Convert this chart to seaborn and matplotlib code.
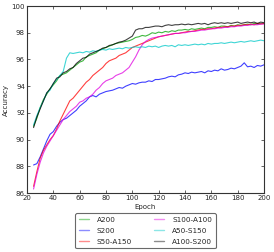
import numpy as np
import pandas as pd
import matplotlib
matplotlib.use("Agg")
import matplotlib.pyplot as plt
import seaborn as sns

epochs = [25, 27.5, 30, 32.5, 35, 37.5, 40, 42.5, 45, 47.5,
          50, 52.5, 55, 57.5, 60, 62.5, 65, 67.5, 70, 72.5,
          75, 77.5, 80, 82.5, 85, 87.5, 90, 92.5, 95, 97.5,
          100, 102.5, 105, 107.5, 110, 112.5, 115, 117.5, 120, 122.5,
          125, 127.5, 130, 132.5, 135, 137.5, 140, 142.5, 145, 147.5,
          150, 152.5, 155, 157.5, 160, 162.5, 165, 167.5, 170, 172.5,
          175, 177.5, 180, 182.5, 185, 187.5, 190, 192.5, 195, 197.5, 200]

A200 = [91.0, 91.6, 92.4, 93.0, 93.4, 93.8, 94.1, 94.4, 94.8, 94.9,
        95.0, 95.2, 95.4, 95.6, 95.8, 95.9, 96.2, 96.3, 96.4, 96.5,
        96.7, 96.8, 96.9, 97.0, 97.1, 97.2, 97.25, 97.3, 97.35, 97.4,
        97.5, 97.65, 97.7, 97.8, 97.75, 97.85, 98.0, 97.95, 98.05, 98.0,
        98.1, 98.05, 98.15, 98.1, 98.2, 98.2, 98.25, 98.2, 98.3, 98.25,
        98.3, 98.35, 98.3, 98.4, 98.4, 98.45, 98.4, 98.5, 98.5, 98.45,
        98.55, 98.5, 98.6, 98.55, 98.6, 98.65, 98.6, 98.7, 98.65, 98.7, 98.7]

S200 = [88.1, 88.2, 88.7, 89.3, 89.9, 90.4, 90.6, 91.0, 91.3, 91.5,
        91.6, 91.8, 92.0, 92.2, 92.5, 92.7, 92.9, 93.2, 93.3, 93.2,
        93.4, 93.5, 93.6, 93.65, 93.7, 93.8, 93.9, 93.85, 94.0, 94.1,
        94.2, 94.15, 94.25, 94.3, 94.3, 94.4, 94.35, 94.5, 94.5, 94.55,
        94.6, 94.7, 94.75, 94.7, 94.85, 94.9, 95.0, 94.95, 95.05, 95.0,
        95.05, 95.1, 95.0, 95.15, 95.1, 95.2, 95.15, 95.3, 95.2, 95.25,
        95.35, 95.3, 95.4, 95.5, 95.75, 95.45, 95.5, 95.4, 95.55, 95.5, 95.6]

S50_A150 = [86.5, 87.6, 88.6, 89.2, 89.6, 90.0, 90.3, 90.8, 91.4, 91.9,
            92.4, 92.9, 93.1, 93.4, 93.7, 94.0, 94.3, 94.5, 94.8, 95.0,
            95.2, 95.4, 95.7, 95.9, 96.0, 96.1, 96.3, 96.4, 96.5, 96.7,
            96.9, 97.0, 97.1, 97.2, 97.3, 97.4, 97.5, 97.6, 97.7, 97.75,
            97.8, 97.85, 97.9, 97.95, 97.95, 98.0, 98.05, 98.1, 98.1, 98.15,
            98.2, 98.25, 98.25, 98.3, 98.3, 98.35, 98.4, 98.4, 98.45, 98.45,
            98.5, 98.5, 98.55, 98.55, 98.6, 98.6, 98.65, 98.6, 98.7, 98.65, 98.7]

S100_A100 = [86.3, 87.4, 88.3, 89.0, 89.5, 89.9, 90.3, 90.7, 91.1, 91.5,
             91.8, 92.1, 92.3, 92.5, 92.8, 92.9, 93.1, 93.2, 93.4, 93.7,
             93.9, 94.2, 94.4, 94.5, 94.6, 94.8, 94.9, 95.0, 95.2, 95.4,
             95.8, 96.2, 96.7, 97.1, 97.35, 97.5, 97.6, 97.65, 97.7, 97.75,
             97.8, 97.85, 97.9, 97.95, 97.95, 98.0, 98.0, 98.05, 98.1, 98.1,
             98.15, 98.2, 98.2, 98.25, 98.3, 98.3, 98.35, 98.35, 98.4, 98.4,
             98.45, 98.45, 98.5, 98.5, 98.55, 98.55, 98.6, 98.6, 98.6, 98.65, 98.65]

A50_S150 = [91.1, 91.8, 92.4, 92.9, 93.5, 93.7, 94.2, 94.5, 94.8, 95.1,
            96.1, 96.5, 96.45, 96.5, 96.55, 96.5, 96.6, 96.55, 96.65, 96.6,
            96.7, 96.75, 96.7, 96.8, 96.75, 96.8, 96.85, 96.8, 96.9, 96.85,
            96.9, 96.95, 96.9, 96.95, 96.9, 97.0, 96.95, 97.0, 96.9, 97.0,
            97.05, 97.0, 97.05, 96.95, 97.1, 97.05, 97.1, 97.05, 97.1, 97.15,
            97.1, 97.15, 97.1, 97.2, 97.15, 97.2, 97.2, 97.25, 97.2, 97.25,
            97.3, 97.25, 97.3, 97.35, 97.3, 97.35, 97.4, 97.35, 97.4, 97.45, 97.4]

A100_S200 = [90.9, 91.7, 92.3, 92.9, 93.5, 93.8, 94.2, 94.6, 94.7, 95.0,
             95.1, 95.3, 95.4, 95.7, 95.9, 96.1, 96.15, 96.4, 96.5, 96.6,
             96.7, 96.85, 96.9, 97.05, 97.1, 97.2, 97.3, 97.35, 97.45, 97.6,
             97.75, 98.2, 98.3, 98.3, 98.4, 98.4, 98.45, 98.5, 98.5, 98.45,
             98.55, 98.6, 98.55, 98.6, 98.6, 98.65, 98.6, 98.65, 98.6, 98.65,
             98.7, 98.65, 98.7, 98.6, 98.7, 98.75, 98.7, 98.75, 98.7, 98.75,
             98.7, 98.75, 98.8, 98.7, 98.75, 98.8, 98.75, 98.8, 98.7, 98.8, 98.75]

series_names = ["A200", "S200", "S50-A150", "S100-A100", "A50-S150", "A100-S200"]
series_values = [A200, S200, S50_A150, S100_A100, A50_S150, A100_S200]
colors = ["#00a000", "#0000ff", "#ff0000", "#e000e0", "#00c8c8", "#000000"]

x_ticks = [20, 40, 60, 80, 100, 120, 140, 160, 180, 200]
y_ticks = [86, 88, 90, 92, 94, 96, 98, 100]

frames = []
for name, vals in zip(series_names, series_values):
    frames.append(pd.DataFrame({"Epoch": epochs, "Accuracy": vals, "Model": name}))
df = pd.concat(frames, ignore_index=True)

sns.set_style("ticks")
plt.rcParams["font.family"] = ["DejaVu Sans"]

fig = plt.figure(figsize=(2.74, 2.52), dpi=100)
ax = fig.add_axes([0.0985, 0.234, 0.865, 0.742])

sns.lineplot(data=df, x="Epoch", y="Accuracy", hue="Model",
             hue_order=series_names, palette=colors, ax=ax,
             linewidth=0.8, alpha=0.75, legend=True)

ax.set_xlim(20, 200)
ax.set_ylim(86, 100)
ax.set_xticks(x_ticks)
ax.set_yticks(y_ticks)
ax.tick_params(direction="in", length=2.5, width=0.5, labelsize=5, pad=1.5,
               top=True, right=True)
for s in ax.spines.values():
    s.set_linewidth(0.8)
    s.set_color("#333333")
ax.set_xlabel("Epoch", fontsize=5, labelpad=2)
ax.set_ylabel("Accuracy", fontsize=5, labelpad=2)

handles, labels = ax.get_legend_handles_labels()
for h in handles:
    h.set_alpha(0.45)
    h.set_linewidth(1.0)
leg = ax.legend(handles, labels, loc="upper center", bbox_to_anchor=(0.5, -0.09),
                ncol=2, fontsize=5.2, frameon=True, fancybox=True, shadow=False,
                handlelength=1.4, columnspacing=3.1, borderpad=0.45,
                labelspacing=0.7, handletextpad=1.1)
leg.get_frame().set_edgecolor("#444444")
leg.get_frame().set_linewidth(0.8)

fig.savefig("out.png", dpi=100)
